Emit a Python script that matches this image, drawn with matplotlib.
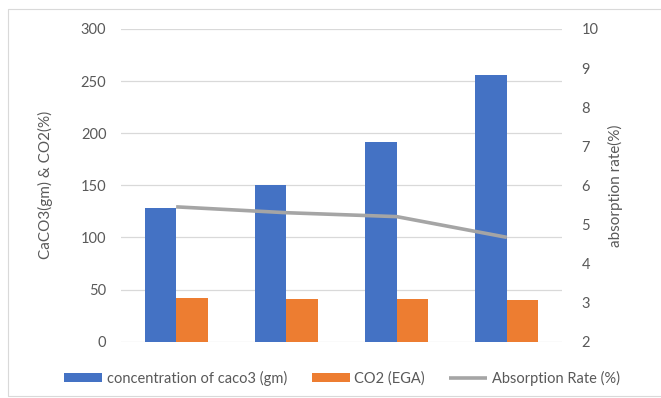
import matplotlib
matplotlib.use("Agg")
import matplotlib.pyplot as plt
import numpy as np
from matplotlib.lines import Line2D

plt.rcParams['font.family'] = ['Lato', 'DejaVu Sans']

categories = ["1", "2", "3", "4"]
caco3 = [128, 150, 192, 256]
co2 = [42, 41, 41, 40]
absorption = [5.45, 5.3, 5.2, 4.67]

left_ticks = [0, 50, 100, 150, 200, 250, 300]
right_ticks = [2, 3, 4, 5, 6, 7, 8, 9, 10]

BLUE = "#4472C4"
ORANGE = "#ED7D31"
GRAY = "#A5A5A5"
TXT = "#595959"
GRID = "#D9D9D9"

W, H = 661, 398
fig = plt.figure(figsize=(W / 100, H / 100), dpi=100)

# chart border: top, left and bottom edges (open on the right)
bx0, by0, by1 = 8 / W, 1 - 396 / H, 1 - 9 / H
fig.add_artist(Line2D([1.0, bx0, bx0, 1.0], [by1, by1, by0, by0],
                      transform=fig.transFigure, color="#D9D9D9", linewidth=0.8))

ax = fig.add_axes([121 / W, 1 - 341.7 / H, (562 - 121) / W, (341.7 - 29) / H])
ax2 = ax.twinx()

x = np.arange(len(categories))
bw = 0.285
b1 = ax.bar(x - bw / 2, caco3, width=bw, color=BLUE, label="concentration of caco3 (gm)", zorder=3)
b2 = ax.bar(x + bw / 2, co2, width=bw, color=ORANGE, label="CO2 (EGA)", zorder=3)
ln, = ax2.plot(x, absorption, color=GRAY, linewidth=2.6, label="Absorption Rate (%)",
               solid_capstyle="butt")

ax.set_xlim(-0.5, len(categories) - 0.5)
ax.set_ylim(0, 300)
ax.set_yticks(left_ticks)
ax2.set_ylim(2, 10)
ax2.set_yticks(right_ticks)
ax.set_xticks([])

ax.yaxis.grid(True, color=GRID, linewidth=0.9, zorder=0)
ax.set_axisbelow(True)
for a in (ax, ax2):
    for s in a.spines.values():
        s.set_visible(False)
    a.tick_params(axis="y", length=0, colors=TXT, labelsize=10.5)
ax.tick_params(axis="y", pad=10.5)
ax2.tick_params(axis="y", pad=14)

ax.set_ylabel("CaCO3(gm) & CO2(%)", color=TXT, fontsize=11, labelpad=20)
ax2.set_ylabel("absorption rate(%)", color=TXT, fontsize=11, labelpad=7)

leg = fig.legend(handles=[b1, b2, ln], loc="center", bbox_to_anchor=(342 / W, 1 - 378 / H),
                 ncol=3, frameon=False, fontsize=10.5, handlelength=2.6, handleheight=0.5,
                 handletextpad=0.3, columnspacing=1.7, labelcolor=TXT)

fig.savefig("out.png", dpi=100, facecolor="white")
